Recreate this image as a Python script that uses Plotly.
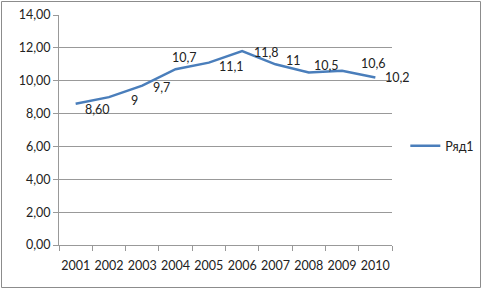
import plotly.graph_objects as go

years = ["2001", "2002", "2003", "2004", "2005", "2006", "2007", "2008", "2009", "2010"]
values = [8.6, 9.0, 9.7, 10.7, 11.1, 11.8, 11.0, 10.5, 10.6, 10.2]
labels = ["8,60", "9", "9,7", "10,7", "11,1", "11,8", "11", "10,5", "10,6", "10,2"]
series_name = "Ряд1"

# label offsets in pixels (style, not data)
label_dx = [22, 26, 19, 9, 23, 24, 18, 18, 31, 22]
label_dy = [-6, -3, -2, 12, -4, -1, 4, 7, 7, 0]

W, H = 482, 289
ML, MR, MT, MB = 59, 90, 15, 44
FONT = "Lato, Open Sans, sans-serif"

fig = go.Figure()
fig.add_trace(go.Scatter(
    x=years, y=values, mode="lines", name=series_name,
    line=dict(color="#4A7EBB", width=2.5),
))

for i, (y, t, dx, dy) in enumerate(zip(values, labels, label_dx, label_dy)):
    fig.add_annotation(x=i, y=y, xref="x", yref="y", text=t, showarrow=False,
                       xshift=dx, yshift=dy,
                       font=dict(size=12.5, color="#222", family=FONT))

pw = W - ML - MR
ph = H - MT - MB
fig.add_shape(type="rect", xref="paper", yref="paper",
              x0=(1.5 - ML) / pw, x1=(W - 1.5 - ML) / pw,
              y0=-(H - 1.5 - MT - ph) / ph, y1=1 + (MT - 1.5) / ph,
              line=dict(color="#8c8c8c", width=1))

fig.update_layout(
    width=W, height=H,
    margin=dict(l=ML, r=MR, t=MT, b=MB, autoexpand=False),
    paper_bgcolor="white", plot_bgcolor="white",
    separators=", ",
    font=dict(family=FONT, size=12.5, color="#222"),
    showlegend=True,
    legend=dict(x=1.04, y=0.43, xanchor="left", yanchor="middle",
                font=dict(size=12.5, family=FONT), itemwidth=30,
                bgcolor="rgba(0,0,0,0)"),
    xaxis=dict(type="category", showgrid=False, showline=True, linecolor="#999",
               linewidth=1, ticks="outside", tickson="boundaries", ticklen=5,
               tickcolor="#999", range=[-0.5, 9.5], tickangle=0, automargin=False,
               ticklabelstandoff=9, fixedrange=True),
    yaxis=dict(range=[0, 14], dtick=2, tickformat=".2f", showgrid=True,
               gridcolor="#999", gridwidth=1, showline=True, linecolor="#999",
               ticks="outside", ticklen=5, tickcolor="#999", zeroline=False,
               automargin=False, fixedrange=True),
)

fig.write_html("out.html", config={"displayModeBar": False},
               post_script="document.body.style.margin='0';document.body.style.overflow='hidden';")
